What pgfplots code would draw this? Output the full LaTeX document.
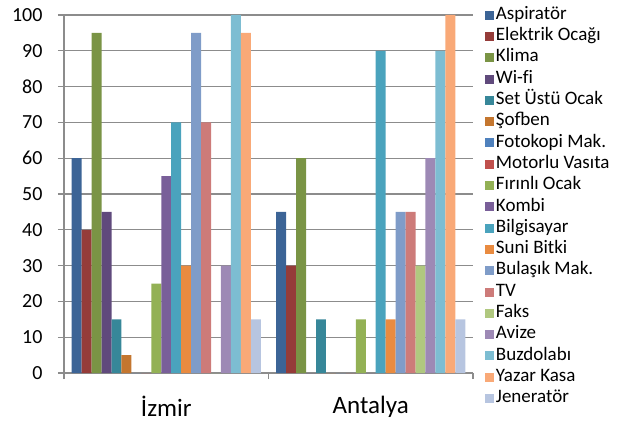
\documentclass[border=0pt]{standalone}
\usepackage{pgfplots}
\pgfplotsset{compat=1.18}
\usepackage{fontspec}
\setmainfont{Carlito}

\definecolor{c1}{HTML}{3C6496}
\definecolor{c2}{HTML}{953C39}
\definecolor{c3}{HTML}{7A9445}
\definecolor{c4}{HTML}{604A7C}
\definecolor{c5}{HTML}{378799}
\definecolor{c6}{HTML}{C4762F}
\definecolor{c7}{HTML}{4F81BD}
\definecolor{c8}{HTML}{C0504D}
\definecolor{c9}{HTML}{93B155}
\definecolor{c10}{HTML}{795F99}
\definecolor{c11}{HTML}{4AA3BD}
\definecolor{c12}{HTML}{E98B40}
\definecolor{c13}{HTML}{7F9CC8}
\definecolor{c14}{HTML}{CD7B79}
\definecolor{c15}{HTML}{B0C87F}
\definecolor{c16}{HTML}{9D89B5}
\definecolor{c17}{HTML}{7DBDD2}
\definecolor{c18}{HTML}{F9A977}
\definecolor{c19}{HTML}{B7C5E0}
\definecolor{gridgray}{HTML}{8C8C8C}

\begin{document}
\begin{tikzpicture}
\useasboundingbox (-64bp,-52bp) rectangle (561bp,373bp);
\begin{axis}[
  at={(0,0)}, anchor=south west,
  scale only axis, width=409bp, height=358bp,
  ybar=0pt, bar width=9.95bp,
  ymin=0, ymax=100, ytick={0,10,...,100},
  xmin=-0.5, xmax=1.5,
  xtick={0,1}, xticklabels={İzmir, Antalya},
  minor xtick={-0.5,0.5,1.5},
  major x tick style={draw=none},
  axis lines=left,
  axis line style={-, draw=gridgray, line width=1.5bp},
  tick align=outside,
  tick style={draw=gridgray, line width=1.3bp},
  major tick length=6bp, minor tick length=6bp,
  ymajorgrids,
  grid style={draw=gridgray, line width=1.2bp},
  /pgf/number format/assume math mode=true,
  yticklabel shift=12bp,
  y tick label style={font=\fontsize{20bp}{21bp}\selectfont, anchor=east},
  x tick label style={font=\fontsize{25bp}{28bp}\selectfont, yshift=-14bp},
  legend cell align=left,
  legend style={at={(1.03,1.026)}, anchor=north west, draw=none, fill=none,
    font=\fontsize{19bp}{19bp}\selectfont,
    inner sep=0pt,
    nodes={inner sep=1.5bp, text height=12bp, text depth=3.5bp},
    row sep=2.8bp},
  legend image code/.code={\fill[#1] (0bp,-4.5bp) rectangle (9bp,4.5bp);},
  every axis plot/.append style={draw=none},
]
\addplot[fill=c1] coordinates {(0,60) (1,45)};
\addplot[fill=c2] coordinates {(0,40) (1,30)};
\addplot[fill=c3] coordinates {(0,95) (1,60)};
\addplot[fill=c4] coordinates {(0,45) (1,0)};
\addplot[fill=c5] coordinates {(0,15) (1,15)};
\addplot[fill=c6] coordinates {(0,5) (1,0)};
\addplot[fill=c7] coordinates {(0,0) (1,0)};
\addplot[fill=c8] coordinates {(0,0) (1,0)};
\addplot[fill=c9] coordinates {(0,25) (1,15)};
\addplot[fill=c10] coordinates {(0,55) (1,0)};
\addplot[fill=c11] coordinates {(0,70) (1,90)};
\addplot[fill=c12] coordinates {(0,30) (1,15)};
\addplot[fill=c13] coordinates {(0,95) (1,45)};
\addplot[fill=c14] coordinates {(0,70) (1,45)};
\addplot[fill=c15] coordinates {(0,0) (1,30)};
\addplot[fill=c16] coordinates {(0,30) (1,60)};
\addplot[fill=c17] coordinates {(0,100) (1,90)};
\addplot[fill=c18] coordinates {(0,95) (1,100)};
\addplot[fill=c19] coordinates {(0,15) (1,15)};
\legend{Aspiratör, Elektrik Ocağı, Klima, Wi-f\kern0pt i, Set Üstü Ocak, Şofben,
  Fotokopi Mak., Motorlu Vasıta, Fırınlı Ocak, Kombi, Bilgisayar, Suni Bitki,
  Bulaşık Mak., TV, Faks, Avize, Buzdolabı, Yazar Kasa, Jeneratör}
\end{axis}
\end{tikzpicture}
\end{document}
